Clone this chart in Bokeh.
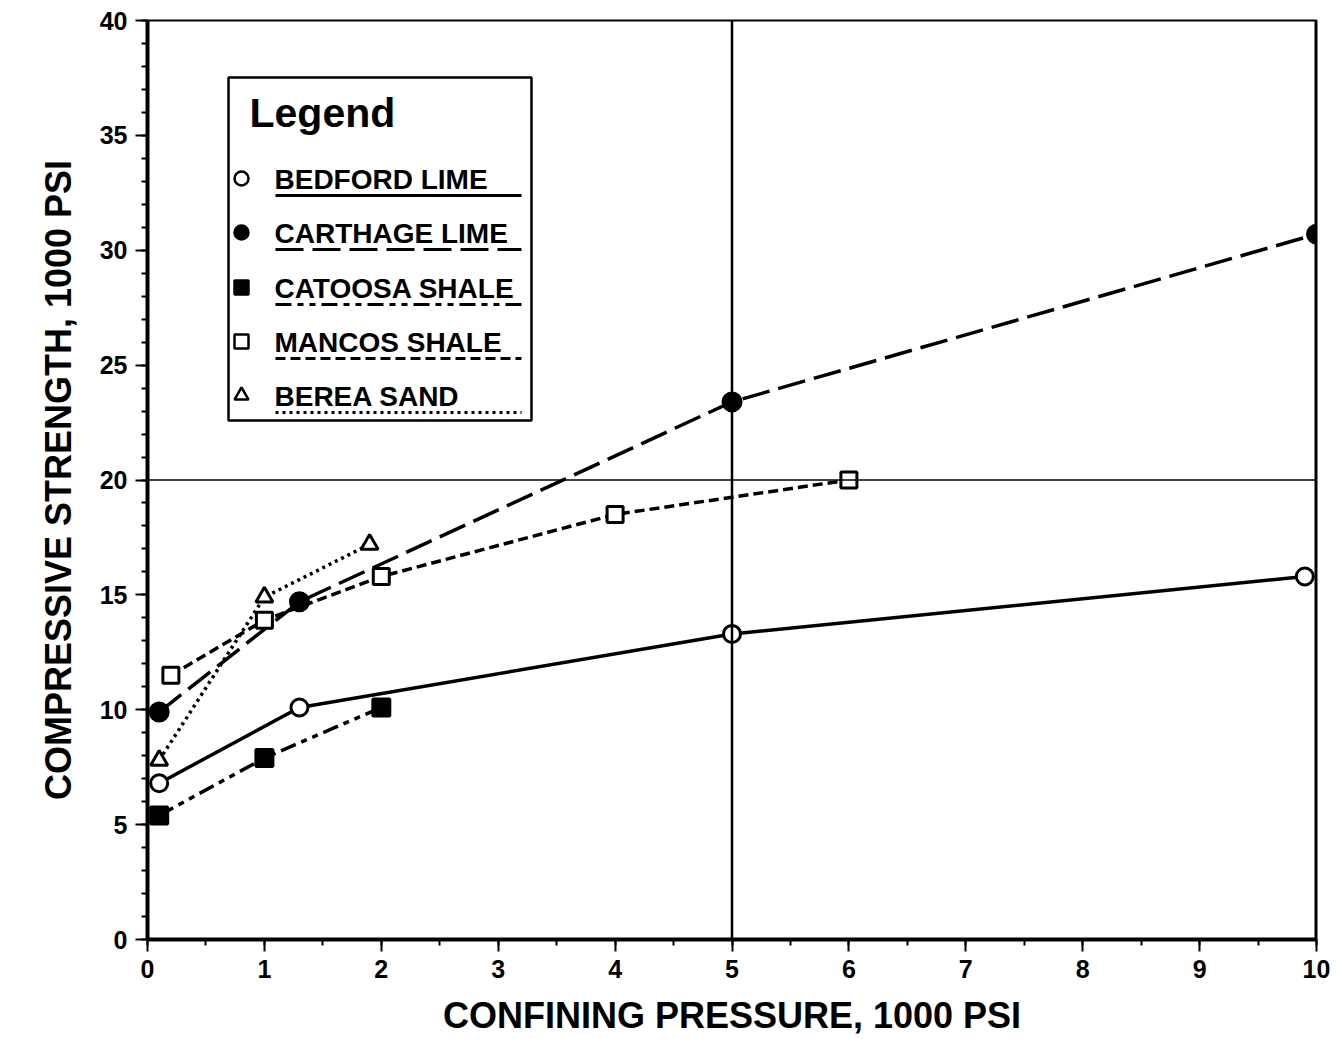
from bokeh.plotting import figure
from bokeh.models import FixedTicker, Span
from bokeh.core.properties import value
from bokeh.embed import file_html
from bokeh.resources import INLINE

# ---- data ----
bedford_x = [0.1, 1.3, 5.0, 9.9]
bedford_y = [6.8, 10.1, 13.3, 15.8]
carthage_x = [0.1, 1.3, 5.0, 10.0]
carthage_y = [9.9, 14.7, 23.4, 30.7]
catoosa_x = [0.1, 1.0, 2.0]
catoosa_y = [5.4, 7.9, 10.1]
mancos_x = [0.2, 1.0, 2.0, 4.0, 6.0]
mancos_y = [11.5, 13.9, 15.8, 18.5, 20.0]
berea_x = [0.1, 1.0, 1.9]
berea_y = [7.8, 14.9, 17.2]

series_names = ["BEDFORD LIME", "CARTHAGE LIME", "CATOOSA SHALE", "MANCOS SHALE", "BEREA SAND"]
x_ticks = list(range(0, 11))
y_ticks = list(range(0, 41, 5))

FONT = "Liberation Sans"

series = [
    (bedford_x, bedford_y, "circle", False, "solid", 17),
    (carthage_x, carthage_y, "circle", True, "28 9", 18),
    (catoosa_x, catoosa_y, "square", True, "16 6 6 6 6 6", 17),
    (mancos_x, mancos_y, "square", False, "10 5", 16),
    (berea_x, berea_y, "triangle", False, "3 4", 17),
]

p = figure(width=1337, height=1039, x_range=(0, 10), y_range=(0, 40),
           output_backend="svg", toolbar_location=None,
           min_border_left=147, min_border_right=21, min_border_top=20, min_border_bottom=100)
p.background_fill_color = "white"
p.border_fill_color = "white"
p.xgrid.visible = False
p.ygrid.visible = False
p.outline_line_color = "black"
p.outline_line_width = 2

p.xaxis.ticker = FixedTicker(ticks=x_ticks, minor_ticks=[i * 0.5 for i in range(21)])
p.yaxis.ticker = FixedTicker(ticks=y_ticks, minor_ticks=list(range(41)))

for ax in (p.xaxis, p.yaxis):
    ax.axis_line_width = 4
    ax.axis_line_color = "black"
    ax.major_tick_line_width = 2
    ax.minor_tick_line_width = 2
    ax.major_tick_line_color = "black"
    ax.minor_tick_line_color = "black"
    ax.major_tick_out = 12
    ax.major_tick_in = 0
    ax.minor_tick_out = 6
    ax.minor_tick_in = 0
    ax.major_label_text_font = FONT
    ax.major_label_text_font_style = "bold"
    ax.major_label_text_font_size = "25px"
    ax.major_label_text_color = "black"
    ax.axis_label_text_font = FONT
    ax.axis_label_text_font_style = "bold"
    ax.axis_label_text_font_size = "36px"
    ax.axis_label_text_color = "black"

p.xaxis.axis_label = "CONFINING PRESSURE, 1000 PSI"
p.yaxis.axis_label = "COMPRESSIVE STRENGTH, 1000 PSI"
p.xaxis.major_label_standoff = 8
p.yaxis.major_label_standoff = 8
p.xaxis.axis_label_standoff = 14
p.yaxis.axis_label_standoff = 18

# reference lines
p.add_layout(Span(location=5, dimension="height", line_color="black", line_width=2.5))
p.add_layout(Span(location=20, dimension="width", line_color="black", line_width=1.5))
p.add_layout(Span(location=10, dimension="height", line_color="black", line_width=4))

# series
for xs, ys, marker, filled, dash, size in series:
    p.line(xs, ys, line_color="black", line_width=3.5, line_dash=dash)
    p.scatter(xs, ys, marker=marker, size=size, line_color="black", line_width=3,
              fill_color="black" if filled else "white")

# ---- legend (drawn manually) ----
def px_x(px):
    return (px - 147) / 116.9

def px_y(py):
    return (939 - py) / 22.975

p.quad(left=[px_x(228)], right=[px_x(531)], top=[px_y(77)], bottom=[px_y(420)],
       fill_color="white", line_color="black", line_width=2.5)
p.text(x=[px_x(249)], y=[px_y(112)], text=["Legend"], text_font=value(FONT),
       text_font_size="41px", text_font_style="bold", text_baseline="middle",
       text_align="left", text_color="black")

entry_rows = [178, 232, 287, 341, 395]
for (xs, ys, marker, filled, dash, size), name, row in zip(series, series_names, entry_rows):
    p.scatter([px_x(241)], [px_y(row)], marker=marker, size=14, line_color="black",
              line_width=2.5, fill_color="black" if filled else "white")
    p.text(x=[px_x(274)], y=[px_y(row + 1)], text=[name], text_font=value(FONT),
           text_font_size="28px", text_font_style="bold", text_baseline="middle",
           text_align="left", text_color="black")
    p.line([px_x(275), px_x(521)], [px_y(row + 17), px_y(row + 17)], line_color="black",
           line_width=3, line_dash=dash)

open("out.html", "w").write(file_html(p, INLINE))
